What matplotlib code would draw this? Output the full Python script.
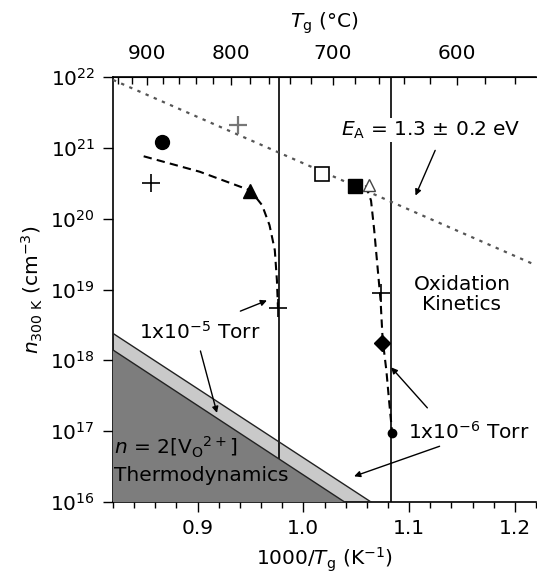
import matplotlib
matplotlib.use("Agg")
import matplotlib.pyplot as plt
from matplotlib.ticker import FixedLocator, NullFormatter, LogFormatterSciNotation

plt.rcParams['font.family'] = ['DejaVu Sans']
plt.rcParams['mathtext.fontset'] = 'dejavusans'

# ---------------- data ----------------
circle_x = [0.866]
circle_n = [1.2e21]
plus_x = [0.856, 0.976, 1.073]
plus_n = [3.2e20, 5.5e18, 8.9e18]
grayplus_x = [0.938]
grayplus_n = [2.1e21]
tri_x = [0.950]
tri_n = [2.45e20]
osq_x = [1.018]
osq_n = [4.3e20]
fsq_x = [1.049]
fsq_n = [2.9e20]
otri_x = [1.0625]
otri_n = [3.0e20]
diamond_x = [1.074]
diamond_n = [1.75e18]
smallc_x = [1.084]
smallc_n = [9.4e16]

curve1_x = [0.849, 0.902, 0.950, 0.961, 0.968, 0.973, 0.975, 0.976]
curve1_n = [7.6e20, 4.6e20, 2.5e20, 1.55e20, 8.1e19, 3.6e19, 1.35e19, 5.5e18]
curve2_x = [1.059, 1.064, 1.067, 1.070, 1.073, 1.075, 1.0785, 1.081, 1.084]
curve2_n = [2.95e20, 1.8e20, 6.9e19, 2.2e19, 7.1e18, 1.95e18, 7.2e17, 2.75e17, 9.4e16]

ea_x = [0.82, 1.22]
ea_n = [9.1e21, 2.2e19]

dark_x = [0.82, 1.039]
dark_n = [1.4e18, 1e16]
light_x = [0.82, 1.064]
light_n = [2.4e18, 1e16]

vline_T = [750, 650]
top_major_T = [600, 700, 800, 900]
top_minor_T = list(range(540, 961, 20))
x_major = [0.9, 1.0, 1.1, 1.2]
y_major = [1e16, 1e17, 1e18, 1e19, 1e20, 1e21, 1e22]

xlim = (0.82, 1.22)
ylim = (1e16, 1e22)

# ---------------- figure ----------------
fig = plt.figure(figsize=(5.37, 5.81), dpi=100)
ax = fig.add_axes([113/537, 1-502/581, (536-113)/537, (502-77)/581])
FS = 14.5

# thermodynamics regions
ax.fill([light_x[0], light_x[1], dark_x[1], dark_x[0]],
        [light_n[0], light_n[1], dark_n[1], dark_n[0]],
        color='#c9c9c9', zorder=1, lw=0)
for T in vline_T:
    ax.axvline(1000/(T+273.15), color='k', lw=1.2, zorder=2)
ax.fill([dark_x[0], dark_x[1], dark_x[0]], [dark_n[0], dark_n[1], ylim[0]],
        color='#7d7d7d', zorder=3, lw=0)
ax.plot(dark_x, dark_n, color='#222222', lw=1.0, zorder=3.5)
ax.plot(light_x, light_n, color='#222222', lw=1.0, zorder=3.5)

# E_A line
ax.plot(ea_x, ea_n, color='#555555', ls=(0, (1.5, 2.5)), lw=1.6, zorder=4)

# dashed curves
ax.plot(curve1_x, curve1_n, color='k', ls=(0, (4, 2.5)), lw=1.5, zorder=5)
ax.plot(curve2_x, curve2_n, color='k', ls=(0, (4, 2.5)), lw=1.5, zorder=5)

# markers
ax.plot(circle_x, circle_n, 'o', color='k', ms=10, zorder=6)
ax.plot(plus_x, plus_n, '+', color='k', ms=13, mew=1.2, zorder=6)
ax.plot(grayplus_x, grayplus_n, '+', color='#777777', ms=13, mew=1.6, zorder=6)
ax.plot(tri_x, tri_n, '^', color='k', ms=10, zorder=6)
ax.plot(osq_x, osq_n, 's', mfc='white', mec='k', mew=1.2, ms=10, zorder=6)
ax.plot(fsq_x, fsq_n, 's', color='k', ms=10, zorder=6)
ax.plot(otri_x, otri_n, '^', mfc='white', mec='#444444', mew=1.0, ms=9, zorder=5.8)
ax.plot(diamond_x, diamond_n, 'D', color='k', ms=8, zorder=6)
ax.plot(smallc_x, smallc_n, 'o', color='k', ms=6, zorder=6)

# axes
ax.set_yscale('log')
ax.set_xlim(*xlim)
ax.set_ylim(*ylim)
ax.xaxis.set_major_locator(FixedLocator(x_major))
ax.xaxis.set_minor_locator(FixedLocator([round(0.82 + 0.02*i, 2) for i in range(21)]))
ax.yaxis.set_major_locator(FixedLocator(y_major))
ax.yaxis.set_major_formatter(LogFormatterSciNotation())
ax.yaxis.set_minor_locator(FixedLocator([]))
ax.tick_params(axis='x', which='major', direction='out', length=7, width=1, labelsize=FS, top=False, pad=5)
ax.tick_params(axis='x', which='minor', direction='out', length=4, width=1, top=False)
ax.tick_params(axis='y', which='major', direction='out', length=7, width=1, labelsize=FS, right=False, pad=6)
for s in ax.spines.values():
    s.set_linewidth(1.2)
ax.spines['right'].set_visible(False)

ax.set_xlabel(r'1000/$T_{\mathrm{g}}$ (K$^{-1}$)', fontsize=FS, labelpad=6)
ax.set_ylabel(r'$n_{\mathrm{300\ K}}$ (cm$^{-3}$)', fontsize=FS, labelpad=4)

sec = ax.secondary_xaxis('top', functions=(lambda x: 1000/x - 273.15,
                                            lambda T: 1000/(T + 273.15)))
sec.xaxis.set_major_locator(FixedLocator(top_major_T))
sec.xaxis.set_minor_locator(FixedLocator(top_minor_T))
sec.xaxis.set_minor_formatter(NullFormatter())
sec.tick_params(which='major', direction='in', length=6, width=1, labelsize=FS, pad=10)
sec.tick_params(which='minor', direction='in', length=5, width=1)
sec.set_xlabel(r'$T_{\mathrm{g}}$ ($\degree$C)', fontsize=FS, labelpad=12)

# annotations
ax.text(1.120, 10**21.25, r'$E_{\mathrm{A}}$ = 1.3 $\pm$ 0.2 eV', fontsize=FS,
        ha='center', va='center', zorder=7,
        bbox=dict(facecolor='white', edgecolor='none', pad=1))
ax.annotate('', xy=(1.105, 10**20.29), xytext=(1.1257, 10**21.0),
            arrowprops=dict(arrowstyle='-|>', color='k', lw=1.0, mutation_scale=9), zorder=7)

ax.text(1.150, 10**18.93, 'Oxidation\nKinetics', fontsize=FS, ha='center',
        va='center', linespacing=1.1, zorder=7)

ax.text(0.9016, 10**18.40, r'1x10$^{-5}$ Torr', fontsize=FS, ha='center',
        va='center', zorder=7)
ax.annotate('', xy=(0.968, 10**18.86), xytext=(0.938, 10**18.68),
            arrowprops=dict(arrowstyle='-|>', color='k', lw=1.0, mutation_scale=9), zorder=7)
ax.annotate('', xy=(0.919, 10**17.22), xytext=(0.902, 10**18.17),
            arrowprops=dict(arrowstyle='-|>', color='k', lw=1.0, mutation_scale=9), zorder=7)

ax.text(1.1568, 10**16.99, r'1x10$^{-6}$ Torr', fontsize=FS, ha='center',
        va='center', zorder=7)
ax.annotate('', xy=(1.0813, 10**17.93), xytext=(1.119, 10**17.30),
            arrowprops=dict(arrowstyle='-|>', color='k', lw=1.0, mutation_scale=9), zorder=7)
ax.annotate('', xy=(1.0455, 10**16.35), xytext=(1.1313, 10**16.80),
            arrowprops=dict(arrowstyle='-|>', color='k', lw=1.0, mutation_scale=9), zorder=7)

ax.text(0.821, 10**16.77, r'$n$ = 2[V$_{\mathrm{O}}$$^{2+}$]', fontsize=FS,
        ha='left', va='center', zorder=7)
ax.text(0.821, 10**16.38, 'Thermodynamics', fontsize=FS, ha='left',
        va='center', zorder=7)

fig.savefig('out.png', dpi=100)
